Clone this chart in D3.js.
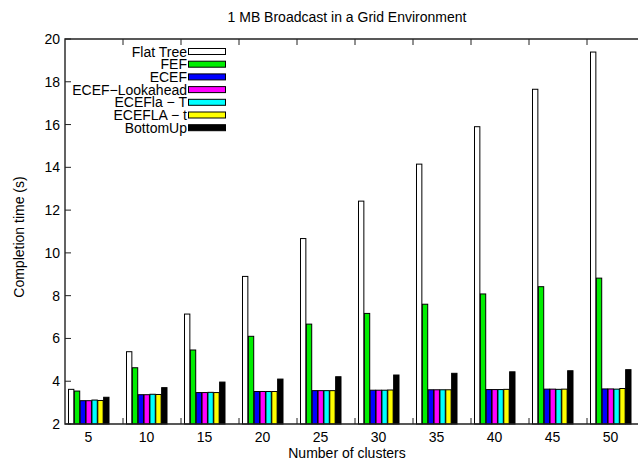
<!DOCTYPE html>
<html>
<head>
<meta charset="utf-8">
<script src="https://cdn.jsdelivr.net/npm/d3@7"></script>
<style>
  body { margin: 0; background: #fff; }
  svg { display: block; font-family: "Liberation Sans", Arial, sans-serif; }
</style>
</head>
<body>
<div id="chart"></div>
<script>
// cluster counts on the x axis
const clusters = ["5", "10", "15", "20", "25", "30", "35", "40", "45", "50"];
const seriesNames = ["Flat Tree", "FEF", "ECEF", "ECEF\u2212Lookahead", "ECEFla \u2212 T", "ECEFLA \u2212 t", "BottomUp"];
const seriesColors = ["#ffffff", "#00ee00", "#0000ff", "#ff00ff", "#00ffff", "#ffff00", "#000000"];

// completion time (s) per series, one value per cluster count
const flatTree   = [3.62, 5.38, 7.14, 8.90, 10.67, 12.42, 14.15, 15.90, 17.65, 19.39];
const fef        = [3.54, 4.63, 5.46, 6.10, 6.67, 7.17, 7.60, 8.08, 8.42, 8.82];
const ecef       = [3.09, 3.37, 3.47, 3.52, 3.56, 3.58, 3.60, 3.61, 3.63, 3.64];
const ecefLook   = [3.09, 3.37, 3.47, 3.52, 3.56, 3.58, 3.60, 3.61, 3.63, 3.64];
const ecefLaT    = [3.12, 3.39, 3.48, 3.52, 3.56, 3.58, 3.60, 3.61, 3.62, 3.63];
const ecefLAt    = [3.10, 3.38, 3.47, 3.52, 3.56, 3.59, 3.60, 3.62, 3.63, 3.66];
const bottomUp   = [3.25, 3.70, 3.96, 4.10, 4.21, 4.29, 4.37, 4.44, 4.49, 4.54];

const yTicks = [2, 4, 6, 8, 10, 12, 14, 16, 18, 20];

const allSeries = [flatTree, fef, ecef, ecefLook, ecefLaT, ecefLAt, bottomUp];

const width = 638, height = 461;
const plotLeft = 65, plotTop = 39, plotBottom = 424;

const svg = d3.select("#chart").append("svg")
    .attr("width", width)
    .attr("height", height);

const x = d3.scaleBand()
    .domain(clusters)
    .range([59.5, 639.5])
    .paddingInner(0.293)
    .paddingOuter(0.1465);

const xs = d3.scaleBand()
    .domain(seriesNames)
    .range([0, x.bandwidth()]);

const y = d3.scaleLinear()
    .domain([2, 20])
    .range([plotBottom, plotTop]);

// title
svg.append("text")
    .attr("x", 347).attr("y", 22)
    .attr("text-anchor", "middle")
    .style("font-size", "14px")
    .text("1 MB Broadcast in a Grid Environment");

// bars
const groups = svg.append("g").selectAll("g")
    .data(clusters)
    .join("g")
    .attr("transform", d => `translate(${x(d)},0)`);

groups.selectAll("rect")
    .data((d, i) => seriesNames.map((s, j) => ({ s: s, j: j, v: allSeries[j][i] })))
    .join("rect")
    .attr("x", d => xs(d.s) + 0.5)
    .attr("y", d => y(d.v))
    .attr("width", xs.bandwidth() - 0.5)
    .attr("height", d => y(2) - y(d.v))
    .attr("fill", d => seriesColors[d.j])
    .attr("stroke", "#000")
    .attr("stroke-width", 1);

// frame: left, bottom, top (right edge falls outside the picture)
svg.append("path")
    .attr("d", `M${width + 5},${plotTop}H${plotLeft}V${plotBottom}H${width + 5}`)
    .attr("fill", "none")
    .attr("stroke", "#222")
    .attr("stroke-width", 1.4);

// y ticks and labels
svg.append("g").selectAll("line")
    .data(yTicks)
    .join("line")
    .attr("x1", plotLeft).attr("x2", plotLeft + 6)
    .attr("y1", d => y(d)).attr("y2", d => y(d))
    .attr("stroke", "#222");

svg.append("g").selectAll("text")
    .data(yTicks)
    .join("text")
    .attr("x", 60)
    .attr("y", d => y(d) + 5)
    .attr("text-anchor", "end")
    .style("font-size", "14px")
    .text(d => d);

// x ticks between the groups, bottom and mirrored on top
const xTickPos = d3.range(1, 10).map(k => plotLeft + k * x.step());
svg.append("g").selectAll("line")
    .data(xTickPos)
    .join("line")
    .attr("x1", d => d).attr("x2", d => d)
    .attr("y1", plotBottom).attr("y2", plotBottom - 6)
    .attr("stroke", "#222");
svg.append("g").selectAll("line")
    .data(xTickPos)
    .join("line")
    .attr("x1", d => d).attr("x2", d => d)
    .attr("y1", plotTop).attr("y2", plotTop + 6)
    .attr("stroke", "#222");

svg.append("g").selectAll("text")
    .data(clusters)
    .join("text")
    .attr("x", d => x(d) + x.bandwidth() / 2)
    .attr("y", 442)
    .attr("text-anchor", "middle")
    .style("font-size", "14px")
    .text(d => d);

// axis titles
svg.append("text")
    .attr("x", 347).attr("y", 458)
    .attr("text-anchor", "middle")
    .style("font-size", "14px")
    .text("Number of clusters");

svg.append("text")
    .attr("transform", "translate(24,237) rotate(-90)")
    .attr("text-anchor", "middle")
    .style("font-size", "14px")
    .text("Completion time (s)");

// legend
const legend = svg.append("g").selectAll("g")
    .data(seriesNames)
    .join("g")
    .attr("transform", (d, i) => `translate(0,${51.5 + i * 12.7})`);

legend.append("text")
    .attr("x", 187)
    .attr("y", 5)
    .attr("text-anchor", "end")
    .style("font-size", "14px")
    .text(d => d);

legend.append("rect")
    .attr("x", 188.5).attr("y", -3)
    .attr("width", 37).attr("height", 6)
    .attr("fill", (d, i) => seriesColors[i])
    .attr("stroke", "#000");
</script>
</body>
</html>
